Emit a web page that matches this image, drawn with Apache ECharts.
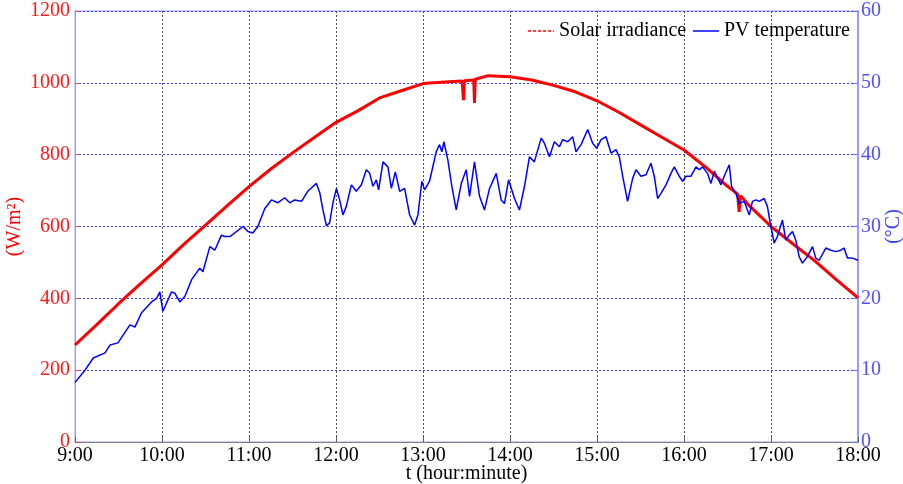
<!DOCTYPE html>
<html><head><meta charset="utf-8">
<script src="https://cdn.jsdelivr.net/npm/echarts@6/dist/echarts.min.js"></script>
<style>html,body{margin:0;padding:0;background:#fff}#c{width:903px;height:484px}</style>
</head><body><div id="c"></div>
<script>
// x tick labels
const xTicks = [9,10,11,12,13,14,15,16,17,18];
// Solar irradiance: minutes after 9:00 and W/m2
const irrMin = [0,15,30,45,60,75,90,105,120,135,150,165,180,195,210,225,240,255,267,267.9,268.5,275,275.5,276,285,300,315,330,345,360,375,390,405,420,435,450,457,458,459,465,480,495,510,525,540];
const irrVal = [270,327,385,440,493,550,604,658,711,760,805,848,890,922,958,978,998,1002,1005,952,1006,1008,944,1010,1020,1017,1008,993,975,950,918,883,848,813,765,712,690,641,686,658,600,552,505,452,401];
// PV temperature: minutes after 9:00 and degC
const tempMin = [0,6.9,12.6,20.7,24.1,29.6,37.9,41.3,45.9,52.8,56.3,58.5,60.6,66.6,68.9,72.3,75.8,80.4,86.1,88.2,93.0,96.4,101.0,103.3,106.8,115.9,119.2,122.6,126.1,130.9,135.5,139.8,144.6,148.1,151.5,156.2,160.5,166.5,168.8,170.8,173.4,175.6,177.9,180.3,182.5,184.8,187.1,190.6,194.0,197.5,200.9,203.2,205.5,207.8,209.4,212.4,215.8,218.2,220.9,223.9,227.3,230.8,234.2,236.5,239.2,241.1,244.5,249.1,251.4,253.0,254.4,257.1,259.9,262.9,266.4,269.8,272.1,275.5,279.0,282.4,285.9,290.5,293.9,296.2,299.0,303.1,306.5,310.0,313.4,316.8,321.5,323.7,327.2,330.6,334.1,336.3,339.8,343.2,345.5,349.0,353.6,357.0,359.8,362.8,366.2,369.7,373.1,375.4,377.7,381.1,384.6,386.9,390.3,393.8,397.2,399.5,401.8,404.1,407.6,411.0,413.3,416.7,419.0,421.4,424.8,428.3,430.5,432.8,436.2,438.6,440.9,445.5,447.7,451.2,452.8,455.8,458.1,461.5,465.0,467.2,469.6,471.8,475.3,477.5,479.9,482.2,484.4,487.9,490.2,492.5,494.8,497.1,499.4,501.7,505.1,508.6,510.9,513.2,517.8,521.2,524.7,528.1,530.4,532.7,536.1,540];
const tempVal = [8.3,10.0,11.7,12.4,13.5,13.8,16.3,16.0,18.0,19.5,20.0,20.9,18.2,20.9,20.7,19.5,20.3,22.6,24.2,23.7,27.2,26.7,28.8,28.6,28.6,30.0,29.3,29.1,30.0,32.5,33.7,33.3,34.0,33.3,33.7,33.5,34.9,36.0,34.7,32.5,30.1,30.5,33.3,35.3,33.7,31.6,32.8,35.8,34.9,35.8,37.9,37.4,35.6,36.5,35.1,39.0,38.3,35.3,37.6,34.9,35.3,31.6,30.2,31.6,36.3,35.1,36.3,40.4,41.4,40.4,41.8,39.3,35.6,32.3,36.0,37.9,34.2,39.0,34.2,32.3,35.3,37.4,33.7,33.2,36.5,33.9,32.3,35.6,39.7,39.0,42.3,41.6,39.7,41.8,41.1,42.1,41.8,42.5,40.4,41.4,43.5,41.6,40.9,42.1,42.5,40.2,40.7,39.7,37.0,33.5,36.7,37.9,37.0,37.2,38.8,37.0,33.9,34.6,35.8,37.4,38.3,37.0,36.3,37.0,37.0,38.3,37.9,38.3,37.4,36.0,37.7,35.8,37.0,38.6,35.6,34.6,33.2,33.5,31.6,33.5,33.7,33.5,33.9,32.8,30.0,27.7,28.6,30.9,28.1,28.8,29.3,28.1,25.8,24.9,25.8,27.2,25.6,25.3,27.0,26.7,26.5,26.7,27.0,25.6,25.6,25.3];

const FONT = '"Liberation Serif", "Times New Roman", serif';
const chart = echarts.init(document.getElementById('c'), null, {renderer:'canvas'});
chart.setOption({
  animation: false,
  backgroundColor: '#fff',
  grid: {left: 75, right: 45, top: 11, bottom: 42, containLabel: false, outerBoundsMode: 'none', show: true, borderColor: '#a0a0ff', borderWidth: 1},
  legend: {
    top: 16, right: 48, itemWidth: 26, itemHeight: 14, itemGap: 6,
    textStyle: {fontFamily: FONT, fontSize: 20, color: '#000'},
    data: [
      {name: 'Solar irradiance', itemStyle: {opacity: 0}, lineStyle: {type: [3,2], width: 1.5, color: '#ff0000'}},
      {name: 'PV temperature', itemStyle: {opacity: 0}, lineStyle: {width: 1.5, color: '#0000ff'}}
    ]
  },
  xAxis: {
    type: 'value', min: 9, max: 18, interval: 1,
    name: 't (hour:minute)', nameLocation: 'middle', nameGap: 22, nameMoveOverlap: false,
    nameTextStyle: {fontFamily: FONT, fontSize: 20, color: '#000'},
    axisLine: {lineStyle: {color: '#808080', width: 1}},
    axisTick: {inside: true, length: 5, lineStyle: {color: '#606060'}},
    axisLabel: {fontFamily: FONT, fontSize: 20, color: '#000', margin: 4,
      formatter: v => xTicks.includes(v) ? v + ':00' : ''},
    splitLine: {show: true, lineStyle: {color: '#505050', type: [2,2], width: 1}}
  },
  yAxis: [
    {
      type: 'value', min: 0, max: 1200, interval: 200, position: 'left',
      name: '(W/m²)', nameLocation: 'middle', nameGap: 50, nameRotate: 90, nameMoveOverlap: false,
      nameTextStyle: {fontFamily: FONT, fontSize: 20, color: '#ff0000'},
      axisLine: {show: true, lineStyle: {color: '#ff8080', width: 1}},
      axisTick: {show: true, inside: true, length: 5, lineStyle: {color: '#ff4040'}},
      axisLabel: {fontFamily: FONT, fontSize: 20, color: '#ff1a1a', margin: 5, formatter: v => String(v)},
      splitLine: {show: true, lineStyle: {color: '#3c3cff', type: [2,2], width: 1}}
    },
    {
      type: 'value', min: 0, max: 60, interval: 10, position: 'right',
      name: '(°C)', nameLocation: 'middle', nameGap: 26, nameRotate: 90, nameMoveOverlap: false,
      nameTextStyle: {fontFamily: FONT, fontSize: 20, color: '#4040ff'},
      axisLine: {show: true, lineStyle: {color: '#9a9aff', width: 2}},
      axisTick: {show: true, inside: true, length: 5, lineStyle: {color: '#7070ff'}},
      axisLabel: {fontFamily: FONT, fontSize: 20, color: '#5050ff', margin: 3, formatter: v => String(v)},
      splitLine: {show: false}
    }
  ],
  series: [
    {
      name: 'Solar irradiance', type: 'line', yAxisIndex: 0, symbol: 'none',
      lineStyle: {color: '#ff0000', width: 3}, itemStyle: {color: '#ff0000'},
      data: irrMin.map((m, i) => [9 + m / 60, irrVal[i]]), z: 3
    },
    {
      name: 'PV temperature', type: 'line', yAxisIndex: 1, symbol: 'none',
      lineStyle: {color: '#0000ff', width: 1.5}, itemStyle: {color: '#0000ff'},
      data: tempMin.map((m, i) => [9 + m / 60, tempVal[i]]), z: 4
    }
  ]
});
</script></body></html>
